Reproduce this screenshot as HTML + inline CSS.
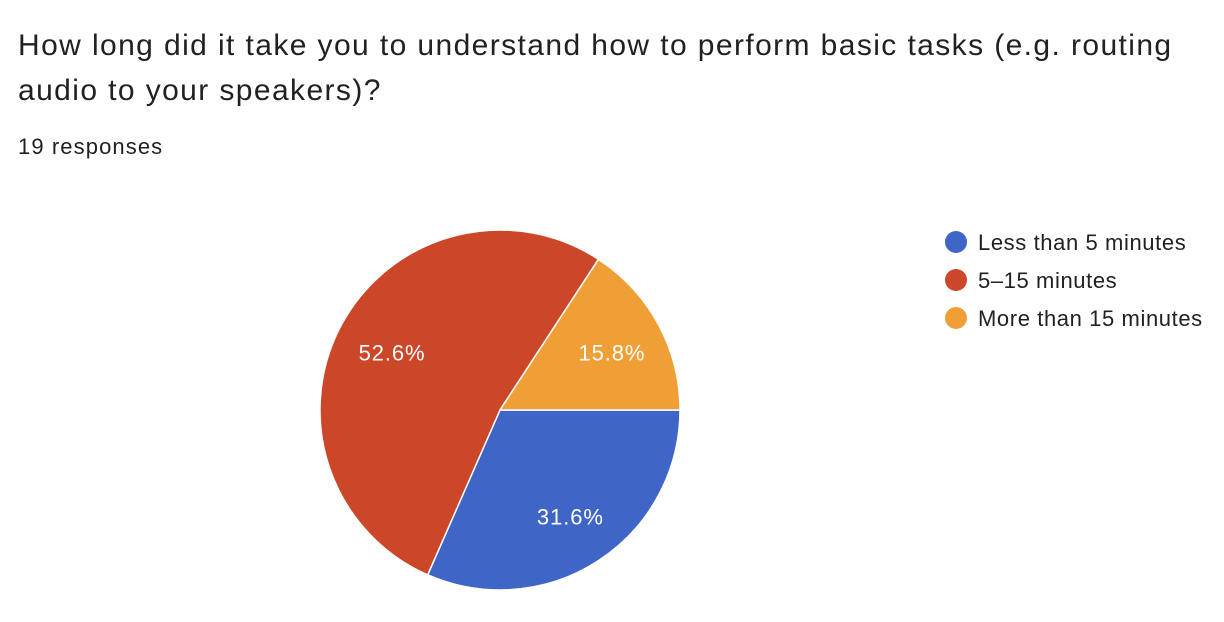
<!DOCTYPE html>
<html><head><meta charset="utf-8">
<style>
body{margin:0;width:1224px;height:622px;background:#fff;font-family:"Liberation Sans",Arial,sans-serif;overflow:hidden;position:relative}
.title{position:absolute;left:18px;top:23px;font-size:30px;letter-spacing:1.4px;line-height:45px;color:#202124;width:1200px;white-space:nowrap}
.resp{position:absolute;left:18px;top:134px;font-size:22px;letter-spacing:1.1px;color:#202124}
svg{position:absolute;left:0;top:0}
</style></head><body>
<div class="title">How long did it take you to understand how to perform basic tasks (e.g. routing<br>audio to your speakers)?</div>
<div class="resp">19 responses</div>
<svg id="chart" width="1224" height="622"></svg>
<script>
const categories=["Less than 5 minutes","5–15 minutes","More than 15 minutes"];
const values=[6,10,3];
const colors=["#3f66c7","#cc4628","#f09f37"];
const svg=document.getElementById('chart');
const NS="http://www.w3.org/2000/svg";
const cx=500,cy=410,R=180;
const total=values.reduce((a,b)=>a+b,0);
function pt(a,r){return [cx+r*Math.sin(a),cy-r*Math.cos(a)];}
let ang=Math.PI/2;
values.forEach((v,i)=>{
  const sweep=v/total*2*Math.PI;
  const [x1,y1]=pt(ang,R),[x2,y2]=pt(ang+sweep,R);
  const p=document.createElementNS(NS,'path');
  p.setAttribute('d',`M${cx},${cy} L${x1},${y1} A${R},${R} 0 ${sweep>Math.PI?1:0} 1 ${x2},${y2} Z`);
  p.setAttribute('fill',colors[i]);p.setAttribute('stroke','#fff');p.setAttribute('stroke-width','1.5');
  
  
  svg.appendChild(p);
  const [lx,ly]=pt(ang+sweep/2,125);
  const t=document.createElementNS(NS,'text');
  t.setAttribute('x',lx+2);t.setAttribute('y',ly+10);t.setAttribute('text-anchor','middle');
  t.setAttribute('fill','#fff');t.setAttribute('font-size','22');t.setAttribute('letter-spacing','0.9');
  t.textContent=(v/total*100).toFixed(1)+'%';
  
  
  svg.appendChild(t);
  ang+=sweep;
});
categories.forEach((c,i)=>{
  const y=242+i*38;
  const g=document.createElementNS(NS,'g');
  
  
  const ci=document.createElementNS(NS,'circle');
  ci.setAttribute('cx',956);ci.setAttribute('cy',y);ci.setAttribute('r',11);ci.setAttribute('fill',colors[i]);
  const t=document.createElementNS(NS,'text');
  t.setAttribute('x',978);t.setAttribute('y',y+8);t.setAttribute('font-size','22');t.setAttribute('letter-spacing','0.6');t.setAttribute('fill','#202124');
  t.textContent=c;
  g.appendChild(ci);g.appendChild(t);svg.appendChild(g);
});
</script>
</body></html>
